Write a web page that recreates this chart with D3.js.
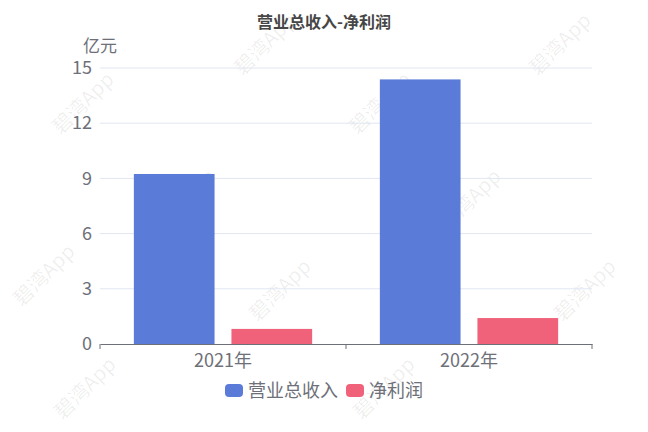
<!DOCTYPE html>
<html>
<head>
<meta charset="utf-8">
<script src="https://cdn.jsdelivr.net/npm/d3@7"></script>
<style>
  body { margin: 0; background: #fff; }
  text { font-family: "Noto Sans CJK SC", "Noto Sans", sans-serif; }
</style>
</head>
<body>
<svg id="chart"></svg>
<script>
// data
var years = ["2021年", "2022年"];
var seriesNames = ["营业总收入", "净利润"];
var revenue = [9.24, 14.38];
var netProfit = [0.82, 1.41];
var yTicks = [0, 3, 6, 9, 12, 15];
var watermarkSpots = [[265, 44], [560, 44], [83, 103], [380, 103], [185, 200], [470, 200],
                      [44, 275], [280, 290], [585, 290], [85, 388], [384, 388]];

var svgWidth = 648, svgHeight = 432;
var margin = {top: 68, right: 56, bottom: 88, left: 100};
var width = svgWidth - margin.left - margin.right;
var height = svgHeight - margin.top - margin.bottom;
var colors = ["#5b7bd8", "#f0627a"];
var axisColor = "#6e7079";

var svg = d3.select("#chart")
    .attr("width", svgWidth)
    .attr("height", svgHeight);

// watermark
svg.append("g")
    .selectAll("text")
    .data(watermarkSpots)
    .enter().append("text")
      .attr("transform", function(d) { return "translate(" + d[0] + "," + d[1] + ") rotate(-45)"; })
      .attr("text-anchor", "middle")
      .attr("dy", "0.35em")
      .attr("font-size", 20)
      .attr("font-family", "'DejaVu Serif', serif")
      .attr("fill", "#000")
      .attr("fill-opacity", 0.07)
      .text("碧湾App");

var g = svg.append("g")
    .attr("transform", "translate(" + margin.left + "," + margin.top + ")");

var x0 = d3.scaleBand()
    .domain(years)
    .range([0, width]);

var x1 = d3.scaleBand()
    .domain(seriesNames)
    .range([0, x0.bandwidth()])
    .paddingInner(0.173)
    .paddingOuter(0.347);

var y = d3.scaleLinear()
    .domain([0, 15])
    .range([height, 0]);

// grid
g.append("g")
    .selectAll("line")
    .data(yTicks.slice(1))
    .enter().append("line")
      .attr("x1", 0)
      .attr("x2", width)
      .attr("y1", function(d) { return y(d); })
      .attr("y2", function(d) { return y(d); })
      .attr("stroke", "#e0e6f1");

// y axis labels
var yAxis = g.append("g")
    .call(d3.axisLeft(y).tickValues(yTicks).tickSize(0).tickPadding(8));
yAxis.select(".domain").remove();
yAxis.selectAll("text")
    .attr("font-size", 18)
    .attr("fill", axisColor)
    .style("font-family", "'Noto Sans CJK SC', sans-serif");

// bars
var rows = years.map(function(yr, i) {
  return {key: yr, values: [
    {name: seriesNames[0], value: revenue[i]},
    {name: seriesNames[1], value: netProfit[i]}
  ]};
});

var groups = g.selectAll(".yearGroup")
    .data(rows)
    .enter().append("g")
      .attr("class", "yearGroup")
      .attr("transform", function(d) { return "translate(" + x0(d.key) + ",0)"; });

groups.selectAll("rect")
    .data(function(d) { return d.values; })
    .enter().append("rect")
      .attr("x", function(d) { return x1(d.name); })
      .attr("y", function(d) { return y(d.value); })
      .attr("width", x1.bandwidth())
      .attr("height", function(d) { return height - y(d.value); })
      .attr("fill", function(d, i) { return colors[i]; });

// x axis
var xAxis = g.append("g")
    .attr("transform", "translate(0," + height + ")")
    .call(d3.axisBottom(x0).tickSize(0).tickPadding(10));
xAxis.select(".domain").attr("stroke", axisColor);
xAxis.selectAll("text")
    .attr("font-size", 18)
    .attr("fill", axisColor)
    .style("font-family", "'Noto Sans CJK SC', sans-serif");

g.append("g")
    .selectAll("line")
    .data([0, x0.bandwidth(), width])
    .enter().append("line")
      .attr("x1", function(d) { return d; })
      .attr("x2", function(d) { return d; })
      .attr("y1", height)
      .attr("y2", height + 5)
      .attr("stroke", axisColor);

// unit label
svg.append("text")
    .attr("x", 100)
    .attr("y", 52)
    .attr("text-anchor", "middle")
    .attr("font-size", 17)
    .attr("fill", axisColor)
    .text("亿元");

// title
svg.append("text")
    .attr("x", svgWidth / 2)
    .attr("y", 28)
    .attr("text-anchor", "middle")
    .attr("font-size", 16)
    .attr("font-weight", "bold")
    .attr("fill", "#464646")
    .text("营业总收入-净利润");

// legend
var legendPos = [225, 346];
var legend = svg.append("g")
    .selectAll("g")
    .data(seriesNames)
    .enter().append("g")
      .attr("transform", function(d, i) { return "translate(" + legendPos[i] + ",384)"; });

legend.append("rect")
    .attr("width", 18)
    .attr("height", 13)
    .attr("rx", 4)
    .attr("fill", function(d, i) { return colors[i]; });

legend.append("text")
    .attr("x", 23)
    .attr("y", 6.5)
    .attr("dy", "0.35em")
    .attr("font-size", 18)
    .attr("fill", axisColor)
    .text(function(d) { return d; });
</script>
</body>
</html>
